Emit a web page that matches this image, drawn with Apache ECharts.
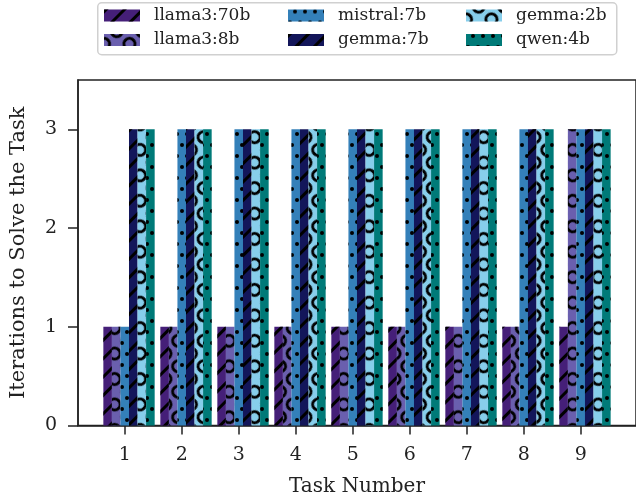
<!DOCTYPE html>
<html>
<head>
<meta charset="utf-8">
<script src="https://cdn.jsdelivr.net/npm/echarts@6/dist/echarts.min.js"></script>
<style>html,body{margin:0;padding:0;background:#fff}#c{width:636px;height:502px}</style>
</head>
<body>
<div id="c"></div>
<script>
// ---- data ----
var tasks = [1, 2, 3, 4, 5, 6, 7, 8, 9];
var seriesNames = ['llama3:70b', 'llama3:8b', 'mistral:7b', 'gemma:7b', 'gemma:2b', 'qwen:4b'];
var llama3_70b = [1, 1, 1, 1, 1, 1, 1, 1, 1];
var llama3_8b  = [1, 1, 1, 1, 1, 1, 1, 1, 3];
var mistral_7b = [1, 3, 3, 3, 3, 3, 3, 3, 3];
var gemma_7b   = [3, 3, 3, 3, 3, 3, 3, 3, 3];
var gemma_2b   = [3, 3, 3, 3, 3, 3, 3, 3, 3];
var qwen_4b    = [3, 3, 3, 3, 3, 3, 3, 3, 3];
var seriesValues = [llama3_70b, llama3_8b, mistral_7b, gemma_7b, gemma_2b, qwen_4b];
var xTicks = [1, 2, 3, 4, 5, 6, 7, 8, 9];
var yTicks = [0, 1, 2, 3];

// ---- style ----
var colors = ['#451f78', '#6a5fae', '#3480b9', '#13165a', '#87ceeb', '#007a78'];
var FONT = 'DejaVu Serif';
var xMin = 0.18, xMax = 9.97, yMax = 3.5;
var gridLeft = 77, gridTop = 80, gridW = 560, gridH = 345.5;
var barStep = 0.15;
var barPx = barStep * gridW / (xMax - xMin);

var ring = 'path://M0,10A10,10,0,1,1,20,10A10,10,0,1,1,0,10ZM4.2,10A5.8,5.8,0,1,0,15.8,10A5.8,5.8,0,1,0,4.2,10Z';
var decalStripe = {symbol: 'rect', symbolSize: 1, dashArrayX: [1, 0], dashArrayY: [2.5, 9.5], rotation: -Math.PI / 4, color: '#000'};
var decalRing = {symbol: ring, symbolSize: 1, dashArrayX: [14, 3.5], dashArrayY: [14, 3.5], rotation: Math.PI / 4, color: '#000'};
var decalDot = {symbol: 'circle', symbolSize: 1, dashArrayX: [[4, 5.2], [0, 4.6, 4, 0.6]], dashArrayY: [4, 7], rotation: 0, color: '#000'};
var decals = [decalStripe, decalRing, decalDot, decalStripe, decalRing, decalDot];

var chart = echarts.init(document.getElementById('c'), null, {renderer: 'canvas'});

var series = seriesNames.map(function (name, i) {
  return {
    name: name,
    type: 'bar',
    barWidth: barPx,
    barGap: '-100%',
    itemStyle: {color: colors[i], decal: decals[i]},
    emphasis: {disabled: true},
    data: tasks.map(function (t, k) { return [t + (i - 2) * barStep, seriesValues[i][k]]; })
  };
});

function legendCol(names, left) {
  return {
    orient: 'vertical', left: left, top: 5.5,
    data: names,
    icon: 'rect', itemWidth: 36, itemHeight: 12, itemGap: 4.5,
    padding: 0,
    textStyle: {fontFamily: FONT, fontSize: 17, lineHeight: 20, color: '#222', padding: [0, 0, 0, 9]},
    selectedMode: false
  };
}

chart.setOption({
  animation: false,
  textStyle: {fontFamily: FONT},
  grid: {left: gridLeft, top: gridTop, width: gridW, height: gridH, show: true, borderColor: '#222', borderWidth: 1.5, backgroundColor: 'transparent'},
  legend: [
    legendCol([seriesNames[0], seriesNames[1]], 104),
    legendCol([seriesNames[2], seriesNames[3]], 288),
    legendCol([seriesNames[4], seriesNames[5]], 466)
  ],
  graphic: [{
    type: 'rect', left: 97, top: 2, z: -1,
    shape: {width: 519, height: 52, r: 4},
    style: {fill: '#fff', stroke: '#d0d0d0', lineWidth: 1.5}
  }],
  xAxis: {
    type: 'value', min: xMin, max: xMax,
    name: 'Task Number', nameLocation: 'middle', nameGap: 51,
    nameTextStyle: {fontFamily: FONT, fontSize: 20, color: '#222'},
    axisLine: {show: true, lineStyle: {color: '#222', width: 1.5}},
    axisTick: {show: true, length: 9, lineStyle: {color: '#222', width: 1.5}, customValues: xTicks},
    axisLabel: {fontFamily: FONT, fontSize: 19, color: '#222', margin: 20, customValues: xTicks},
    splitLine: {show: false}
  },
  yAxis: {
    type: 'value', min: 0, max: yMax,
    name: 'Iterations to Solve the Task', nameLocation: 'middle', nameGap: 49, nameRotate: 90,
    nameTextStyle: {fontFamily: FONT, fontSize: 21, color: '#222'},
    axisLine: {show: true, lineStyle: {color: '#222', width: 1.5}},
    axisTick: {show: true, length: 10, lineStyle: {color: '#222', width: 1.5}, customValues: yTicks},
    axisLabel: {fontFamily: FONT, fontSize: 19, color: '#222', margin: 21, customValues: yTicks},
    splitLine: {show: false}
  },
  series: series
});
</script>
</body>
</html>
